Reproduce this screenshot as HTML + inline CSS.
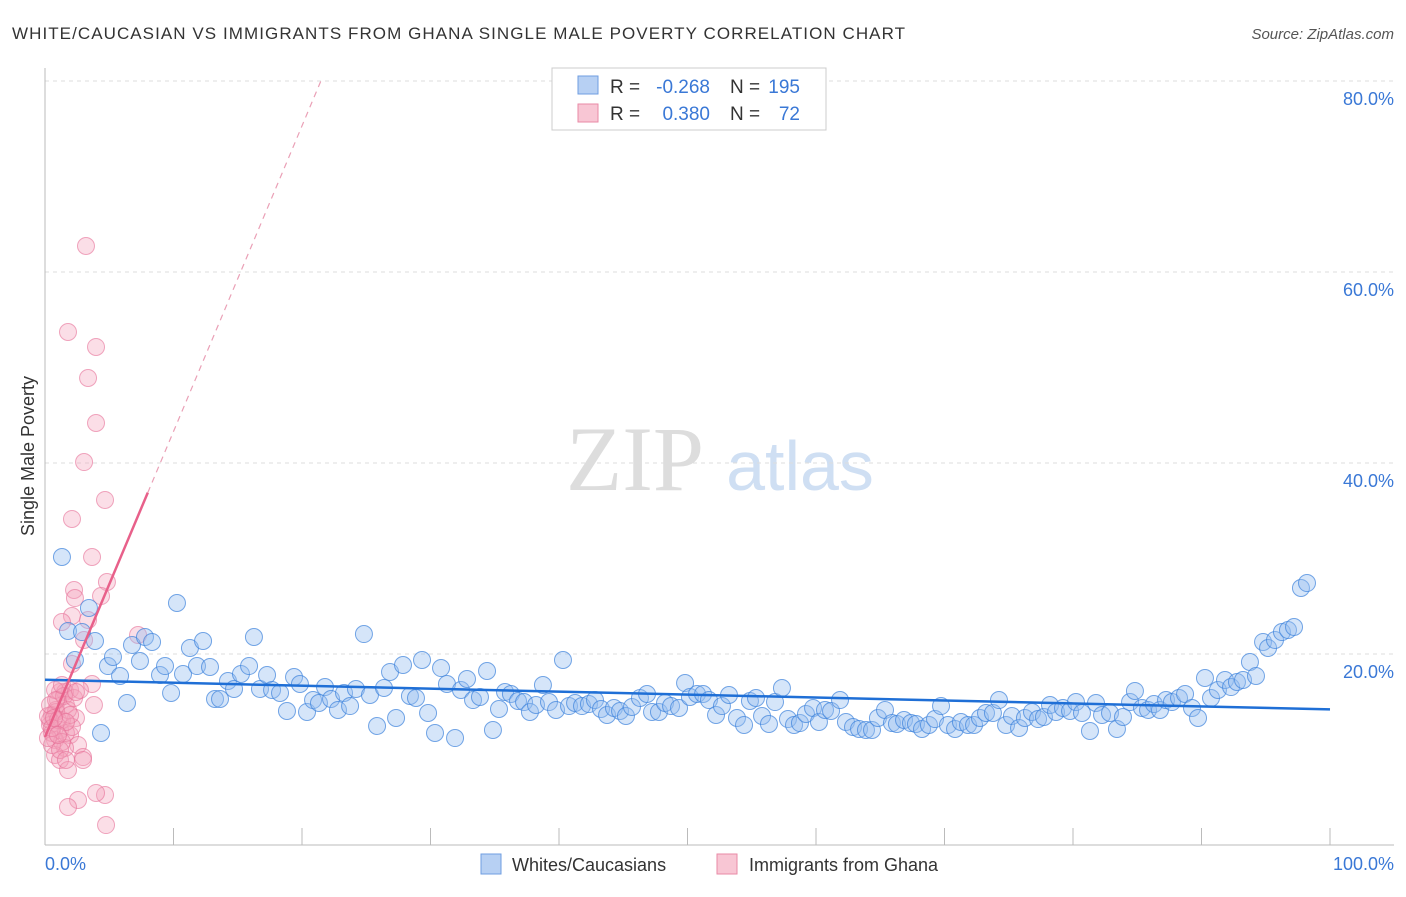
<!DOCTYPE html>
<html><head><meta charset="utf-8">
<style>
body{margin:0;background:#fff;font-family:"Liberation Sans",sans-serif;}
</style></head>
<body>
<svg id="chart" width="1406" height="892" xmlns="http://www.w3.org/2000/svg">
<text x="12" y="39" font-size="17" fill="#333" textLength="893">WHITE/CAUCASIAN VS IMMIGRANTS FROM GHANA SINGLE MALE POVERTY CORRELATION CHART</text>
<text x="1394" y="39" font-size="15" fill="#555" font-style="italic" text-anchor="end">Source: ZipAtlas.com</text>
<text x="635" y="490" font-size="92" fill="#ddd" font-family="Liberation Serif,serif" text-anchor="middle">ZIP</text>
<text x="800" y="490" font-size="70" fill="#cfdff3" text-anchor="middle">atlas</text>
<g id="grid"></g>
<g id="axes"></g>
<g id="pink"></g>
<g id="blue"></g>
<g id="lines"></g>
<text transform="translate(34,456) rotate(-90)" font-size="18" fill="#333" text-anchor="middle">Single Male Poverty</text>
<text x="45" y="870" font-size="18" fill="#3a78d6">0.0%</text>
<text x="1394" y="870" font-size="18" fill="#3a78d6" text-anchor="end">100.0%</text>
<g>
<rect x="552" y="68" width="274" height="62" fill="#fff" stroke="#ccc"/>
<rect x="578" y="76" width="20" height="18" fill="#b7d0f3" stroke="#6f9ee0"/>
<rect x="578" y="104" width="20" height="18" fill="#f8c6d4" stroke="#e98aa6"/>
<text x="610" y="93" font-size="19" fill="#333">R =</text>
<text x="710" y="93" font-size="19" fill="#3a78d6" text-anchor="end">-0.268</text>
<text x="730" y="93" font-size="19" fill="#333">N =</text>
<text x="800" y="93" font-size="19" fill="#3a78d6" text-anchor="end">195</text>
<text x="610" y="120" font-size="19" fill="#333">R =</text>
<text x="710" y="120" font-size="19" fill="#3a78d6" text-anchor="end">0.380</text>
<text x="730" y="120" font-size="19" fill="#333">N =</text>
<text x="800" y="120" font-size="19" fill="#3a78d6" text-anchor="end">72</text>
</g>
<g>
<rect x="481" y="854" width="20" height="20" fill="#b7d0f3" stroke="#6f9ee0"/>
<text x="512" y="871" font-size="18" fill="#333">Whites/Caucasians</text>
<rect x="717" y="854" width="20" height="20" fill="#f8c6d4" stroke="#e98aa6"/>
<text x="749" y="871" font-size="18" fill="#333">Immigrants from Ghana</text>
</g>
</svg>
<script>
const yTicks=[20,40,60,80];
const yTickLabels=["20.0%","40.0%","60.0%","80.0%"];
const xTicks=[0,10,20,30,40,50,60,70,80,90,100];
const bluePx=[[62,557],[89,608],[68,631],[82,632],[95,641],[75,660],[101,733],[108,666],[113,657],[120,676],[127,703],[132,645],[140,661],[145,637],[152,642],[160,675],[165,666],[171,693],[177,603],[183,674],[190,648],[197,666],[203,641],[210,667],[215,699],[220,699],[228,681],[234,689],[241,674],[249,666],[254,637],[260,689],[267,675],[272,690],[280,693],[287,711],[294,677],[300,684],[307,712],[313,700],[319,703],[325,687],[331,699],[338,710],[344,693],[350,706],[356,689],[364,634],[370,695],[377,726],[384,688],[390,672],[396,718],[403,665],[410,696],[416,698],[422,660],[428,713],[435,733],[441,668],[447,684],[455,738],[461,690],[467,679],[473,700],[480,697],[487,671],[493,730],[499,709],[505,692],[511,694],[518,701],[524,702],[530,712],[536,705],[543,685],[549,702],[556,710],[563,660],[569,706],[575,703],[582,706],[589,704],[595,700],[601,709],[607,715],[614,708],[620,711],[626,716],[632,707],[640,698],[647,694],[652,712],[659,712],[665,703],[671,706],[679,708],[685,683],[690,697],[697,694],[703,694],[709,700],[716,715],[722,706],[729,695],[737,718],[744,725],[750,701],[756,698],[762,716],[769,724],[775,702],[782,688],[788,719],[794,725],[800,723],[806,714],[813,708],[819,722],[825,710],[831,711],[840,700],[846,722],[853,727],[859,729],[866,730],[872,730],[878,718],[885,710],[892,723],[897,724],[904,720],[911,723],[916,724],[922,729],[929,725],[935,719],[941,706],[948,725],[955,729],[961,722],[968,725],[974,725],[980,718],[986,713],[993,713],[999,700],[1006,725],[1012,716],[1019,728],[1025,718],[1032,712],[1038,719],[1044,717],[1050,705],[1056,712],[1063,708],[1070,711],[1076,702],[1082,713],[1090,731],[1096,703],[1102,715],[1110,713],[1117,729],[1123,717],[1130,702],[1135,691],[1142,708],[1148,710],[1154,704],[1160,710],[1166,700],[1172,702],[1179,698],[1185,694],[1192,708],[1198,718],[1205,678],[1211,698],[1218,690],[1225,680],[1231,687],[1237,682],[1243,680],[1250,662],[1256,676],[1263,642],[1268,648],[1275,640],[1282,632],[1288,630],[1294,627],[1301,588],[1307,583]];
const pinkPx=[[86,246],[68,332],[96,347],[88,378],[96,423],[84,462],[72,519],[105,500],[92,557],[107,582],[74,590],[101,596],[75,598],[72,616],[88,620],[62,622],[138,635],[84,640],[72,664],[60,692],[70,690],[65,692],[92,684],[58,700],[66,705],[76,718],[56,710],[52,715],[62,720],[94,705],[60,730],[70,735],[50,725],[55,740],[78,745],[65,748],[55,755],[83,757],[60,760],[68,770],[83,760],[105,795],[96,793],[78,800],[68,807],[106,825],[52,733],[56,712],[66,733],[50,720],[62,742],[48,716],[58,720],[72,727],[50,705],[55,690],[64,696],[68,710],[52,745],[60,750],[74,698],[48,738],[56,700],[62,685],[80,690],[70,715],[52,728],[66,722],[58,735],[66,760],[76,692],[54,718]];
const blueX=bluePx.map(p=>+((p[0]-45)/12.85).toFixed(2));
const blueY=bluePx.map(p=>+((845-p[1])/9.55).toFixed(2));
const pinkX=pinkPx.map(p=>+((p[0]-45)/12.85).toFixed(2));
const pinkY=pinkPx.map(p=>+((845-p[1])/9.55).toFixed(2));
const blueTrend=[17.3,14.2];
const pinkTrend=[11.3,3.2];

const X=v=>45+v*12.85, Y=v=>845-v*9.55;
const NS="http://www.w3.org/2000/svg";
function mk(t,a,p){const e=document.createElementNS(NS,t);for(const k in a)e.setAttribute(k,a[k]);p.appendChild(e);return e;}
const grid=document.getElementById('grid'),axes=document.getElementById('axes');
yTicks.forEach((t,i)=>{
  const l=mk('line',{x1:45,x2:1394,y1:Y(t),y2:Y(t),stroke:'#ddd','stroke-dasharray':'4,4'},grid);
  
  
  const tx=mk('text',{x:1394,y:Y(t)+24,'font-size':18,fill:'#3a78d6','text-anchor':'end'},axes);
  tx.textContent=yTickLabels[i];
  
  
});
const ax=mk('line',{x1:45,x2:45,y1:68,y2:845,stroke:'#bbb'},axes);


const bx=mk('line',{x1:45,x2:1394,y1:845,y2:845,stroke:'#bbb'},axes);


xTicks.forEach(t=>{
  const l=mk('line',{x1:X(t),x2:X(t),y1:828,y2:845,stroke:'#bbb'},axes);
  
  
});
const pg=document.getElementById('pink'),bg=document.getElementById('blue');
pinkX.forEach((x,i)=>{
  const c=mk('circle',{cx:X(x),cy:Y(pinkY[i]),r:8.5,fill:'rgba(244,160,186,0.35)',stroke:'rgba(230,110,150,0.6)','stroke-width':1},pg);
  
  
});
blueX.forEach((x,i)=>{
  const c=mk('circle',{cx:X(x),cy:Y(blueY[i]),r:8.5,fill:'rgba(150,190,240,0.4)',stroke:'rgba(60,130,220,0.7)','stroke-width':1},bg);
  
  
});
const lg=document.getElementById('lines');
const bt=mk('line',{x1:X(0),y1:Y(blueTrend[0]),x2:X(100),y2:Y(blueTrend[1]),stroke:'#1f6fd6','stroke-width':2.5},lg);


const pf=x=>pinkTrend[0]+pinkTrend[1]*x;
const ps=mk('line',{x1:X(0),y1:Y(pf(0)),x2:X(8),y2:Y(pf(8)),stroke:'#e8608a','stroke-width':2.5},lg);


const xe=(80-pinkTrend[0])/pinkTrend[1];
const pd=mk('line',{x1:X(8),y1:Y(pf(8)),x2:X(xe),y2:Y(80),stroke:'#eaa0b6','stroke-width':1.2,'stroke-dasharray':'6,5'},lg);


</script>
</body></html>
